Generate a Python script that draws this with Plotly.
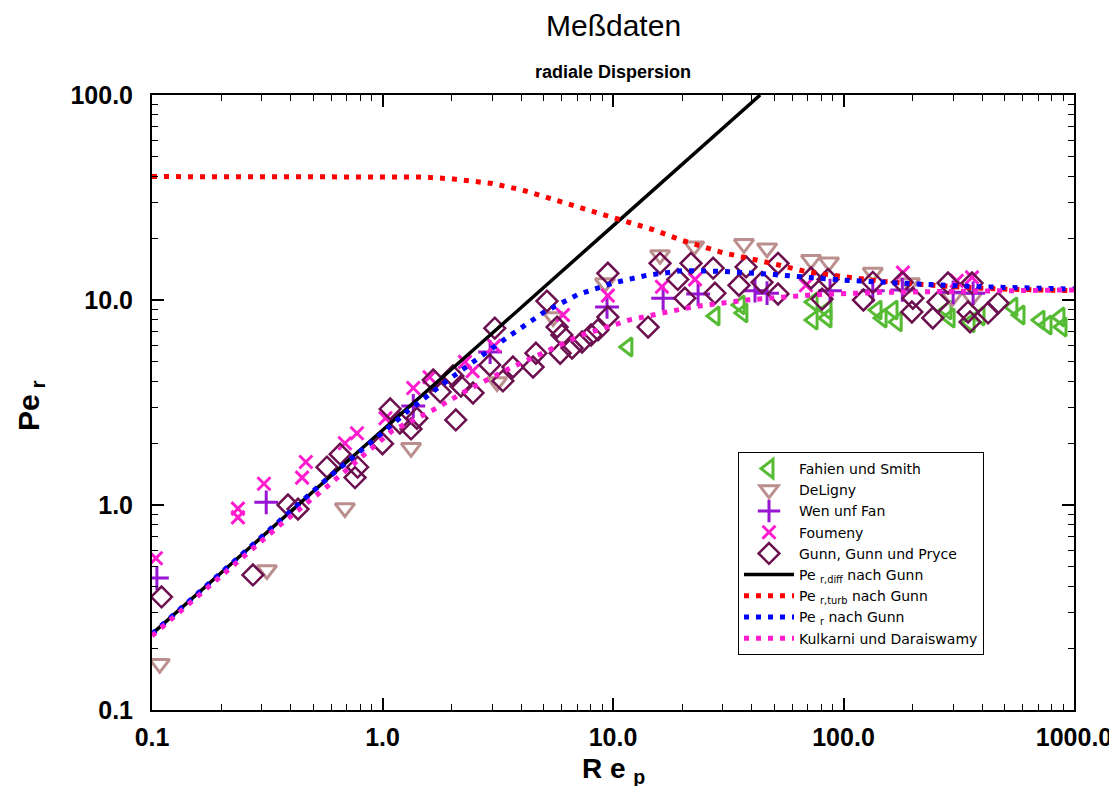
import plotly.graph_objects as go

# ---------------- data ----------------
fahien_re = [11.6, 27.7, 35.6, 36.6, 73.8, 73.8, 84.8, 84.8, 139.8, 147, 164, 171, 281, 290, 354, 391, 543, 583, 712, 764, 869, 887]
fahien_pe = [5.9, 8.35, 9.46, 8.65, 9.77, 7.98, 8.93, 8.17, 8.93, 8.17, 8.93, 7.82, 8.93, 8.17, 7.73, 8.35, 9.25, 8.45, 7.98, 7.55, 8.26, 7.38]

deligny_re = [0.108, 0.315, 0.687, 1.33, 3.14, 5.5, 9.23, 16.0, 22.5, 37.0, 46.6, 72.3, 86.5, 134, 194, 296, 361]
deligny_pe = [0.168, 0.482, 0.967, 1.90, 3.98, 8.26, 12.1, 16.6, 18.3, 18.8, 17.9, 15.7, 15.3, 13.6, 12.1, 10.3, 10.3]

wen_re = [0.105, 0.313, 1.36, 2.93, 9.42, 16.5, 23.4, 41.3, 46.6, 87.4, 134, 180, 299, 365]
wen_pe = [0.44, 1.03, 3.04, 5.57, 9.25, 10.2, 10.7, 11.1, 10.8, 11.1, 11.1, 11.2, 10.9, 10.8]

foumeny_re = [0.104, 0.236, 0.236, 0.306, 0.448, 0.465, 0.687, 0.775, 1.03, 1.36, 1.6, 2.28, 2.46, 3.05, 6.07, 9.5, 16.3, 22.7, 68.7, 181, 310, 361]
foumeny_pe = [0.55, 0.96, 0.87, 1.27, 1.36, 1.62, 2.0, 2.24, 2.65, 3.72, 4.2, 4.99, 4.5, 5.97, 8.45, 10.5, 11.6, 12.6, 11.8, 13.6, 12.4, 12.9]

gunn_re = [0.11, 0.274, 0.389, 0.43, 0.574, 0.655, 0.76, 0.78, 1.0, 1.08, 1.19, 1.33, 1.41, 1.66, 1.78, 2.02, 2.08, 2.19, 2.47,
           2.92, 3.07, 3.33, 3.68, 4.5, 4.63, 5.17, 5.72, 5.9, 6.0, 6.64, 7.34, 8.03, 8.61, 9.5, 9.5, 14.2, 16.0, 19.1, 20.5,
           21.8, 27.2, 27.7, 35.2, 37.8, 44.3, 52, 52, 72.3, 80.7, 85.7, 122, 134, 180, 200, 198, 244, 257, 284, 347, 354, 361, 424, 468]
gunn_pe = [0.356, 0.456, 1.0, 0.955, 1.53, 1.77, 1.36, 1.53, 1.99, 2.94, 2.51, 2.35, 2.65, 4.07, 3.56, 4.26, 2.6, 3.8, 3.52,
           4.82, 7.29, 4.03, 4.71, 4.71, 5.5, 9.88, 7.38, 5.5, 6.75, 5.83, 6.24, 6.75, 7.15, 8.26, 13.5, 7.38, 15.1, 12.6, 10.2,
           15.1, 14.3, 10.8, 11.8, 14.5, 12.2, 15.1, 10.7, 12.8, 10.1, 12.6, 10.0, 12.2, 12.2, 10.2, 8.74, 8.17, 9.77, 12.1, 8.74, 7.82, 12.1, 8.65, 9.66]

diff_re = [0.1, 0.3, 1.0, 3.0, 10.0, 30.0, 43.5]
diff_pe = [0.235, 0.70, 2.3, 6.9, 23.0, 69.0, 100.0]

turb_re = [0.1, 0.3, 1.0, 1.5, 2.0, 3.0, 4.0, 5.0, 7.0, 10.0, 15.0, 20.0, 30.0, 50.0, 70.0, 100.0, 150.0, 200.0, 300.0, 500.0, 1000.0]
turb_pe = [40.0, 40.0, 40.0, 39.8, 39.0, 37.0, 34.5, 32.0, 28.5, 25.0, 22.0, 19.5, 17.0, 15.0, 13.7, 13.0, 12.3, 12.0, 11.6, 11.3, 11.1]

gunn_model_re = [0.1, 0.3, 0.6, 1.0, 1.3, 2.0, 3.0, 3.5, 5.0, 7.0, 10.0, 14.0, 20.0, 30.0, 50.0, 100.0, 200.0, 400.0, 1000.0]
gunn_model_pe = [0.235, 0.70, 1.4, 2.25, 2.9, 4.2, 5.9, 6.6, 8.7, 10.6, 12.1, 13.2, 13.9, 13.8, 13.3, 12.5, 12.0, 11.6, 11.3]

kulkarni_re = [0.1, 0.2, 0.36, 0.57, 0.75, 1.1, 1.65, 2.3, 3.5, 5.2, 7.2, 11.8, 16.4, 22.0, 38.0, 74.0, 145.0, 390.0, 1000.0]
kulkarni_pe = [0.23, 0.45, 0.8, 1.22, 1.6, 2.3, 2.9, 3.6, 4.6, 5.7, 6.7, 8.0, 8.7, 9.25, 10.0, 10.6, 10.9, 11.0, 11.2]

x_tickvals = [0.1, 1, 10, 100, 1000]
x_ticktext = ["0.1", "1.0", "10.0", "100.0", "1000.0"]
y_tickvals = [0.1, 1, 10, 100]
y_ticktext = ["0.1", "1.0", "10.0", "100.0"]
minor_vals = [m * 10 ** e for e in range(-1, 3) for m in range(2, 10)]

FONT = "Liberation Sans, Arial, sans-serif"

# page body has an 8px margin: figure drawn from (8,8)
W, H = 1117, 786
OFF = 8
PL, PR, PT, PB = 152, 1074, 95, 710   # plot area in screen pixels

fig = go.Figure()

fig.add_trace(go.Scatter(x=fahien_re, y=fahien_pe, mode="markers", name="Fahien und Smith",
                         marker=dict(symbol="triangle-left-open", size=16, color="#55bb33", line=dict(width=3, color="#55bb33"))))
fig.add_trace(go.Scatter(x=deligny_re, y=deligny_pe, mode="markers", name="DeLigny",
                         marker=dict(symbol="triangle-down-open", size=17, color="#bc8f8f", line=dict(width=3, color="#bc8f8f"))))
fig.add_trace(go.Scatter(x=wen_re, y=wen_pe, mode="markers", name="Wen unf Fan",
                         marker=dict(symbol="cross-thin-open", size=17, color="#9614d2", line=dict(width=3, color="#9614d2"))))
fig.add_trace(go.Scatter(x=foumeny_re, y=foumeny_pe, mode="markers", name="Foumeny",
                         marker=dict(symbol="x-thin-open", size=13, color="#ff1ccf", line=dict(width=3, color="#ff1ccf"))))
fig.add_trace(go.Scatter(x=gunn_re, y=gunn_pe, mode="markers", name="Gunn, Gunn und Pryce",
                         marker=dict(symbol="diamond-open", size=16, color="#6b0f4f", line=dict(width=2.5, color="#6b0f4f"))))

fig.add_trace(go.Scatter(x=diff_re, y=diff_pe, mode="lines", name="Pe <sub>r,diff</sub> nach Gunn",
                         line=dict(color="black", width=3.5)))
fig.add_trace(go.Scatter(x=turb_re, y=turb_pe, mode="lines", name="Pe <sub>r,turb</sub> nach Gunn",
                         line=dict(color="#ff0000", width=5, dash="5px,7px")))
fig.add_trace(go.Scatter(x=gunn_model_re, y=gunn_model_pe, mode="lines", name="Pe <sub>r</sub> nach Gunn",
                         line=dict(color="#0000ff", width=5, dash="5px,7px")))
fig.add_trace(go.Scatter(x=kulkarni_re, y=kulkarni_pe, mode="lines", name="Kulkarni und Daraiswamy",
                         line=dict(color="#ff1ccf", width=5, dash="5px,7px")))

axis_common = dict(type="log", showgrid=False, zeroline=False, showline=True, linecolor="black", linewidth=2,
                   mirror="allticks", ticks="inside", ticklen=12, tickwidth=1.5, tickcolor="black",
                   tickfont=dict(family=FONT, size=25, color="black"), ticklabeloverflow="allow",
                   minor=dict(ticks="inside", ticklen=6, tickwidth=1, tickcolor="black", tickvals=minor_vals, showgrid=False))

fig.update_xaxes(range=[-1, 3], tickvals=x_tickvals, ticktext=[f"<b>{t}</b>" for t in x_ticktext],
                 ticklabelstandoff=4, **axis_common)
fig.update_yaxes(range=[-1, 2], tickvals=y_tickvals, ticktext=[f"<b>{t}</b>" for t in y_ticktext],
                 ticklabelstandoff=12, **axis_common)

pw, ph = PR - PL, PB - PT


def px(x):
    return (x - PL) / pw


def py(y):
    return (PB - y) / ph


fig.update_layout(
    width=W, height=H,
    margin=dict(l=PL - OFF, r=OFF + W - PR, t=PT - OFF, b=OFF + H - PB, autoexpand=False),
    paper_bgcolor="white", plot_bgcolor="white",
    font=dict(family=FONT, color="black"),
    showlegend=True,
    legend=dict(x=px(738), y=py(452), xanchor="left", yanchor="top", bgcolor="white",
                bordercolor="black", borderwidth=1,
                font=dict(family="DejaVu Sans, Liberation Sans, sans-serif", size=14, color="black"),
                itemwidth=50, tracegroupgap=0),
    annotations=[
        dict(text="Meßdaten", x=px(613), y=py(25), xref="paper", yref="paper", showarrow=False,
             xanchor="center", yanchor="middle", font=dict(family=FONT, size=30, color="black")),
        dict(text="<b>radiale Dispersion</b>", x=px(613), y=py(72), xref="paper", yref="paper", showarrow=False,
             xanchor="center", yanchor="middle", font=dict(family=FONT, size=18, color="black")),
        dict(text="<b>R e <sub>p</sub></b>", x=px(613), y=py(770), xref="paper", yref="paper", showarrow=False,
             xanchor="center", yanchor="middle", font=dict(family=FONT, size=28, color="black")),
        dict(text="<b>Pe<sub> r</sub></b>", x=px(30), y=py(405), xref="paper", yref="paper", showarrow=False,
             textangle=-90, xanchor="center", yanchor="middle", font=dict(family=FONT, size=30, color="black")),
    ],
)

fig.write_html("out.html")
